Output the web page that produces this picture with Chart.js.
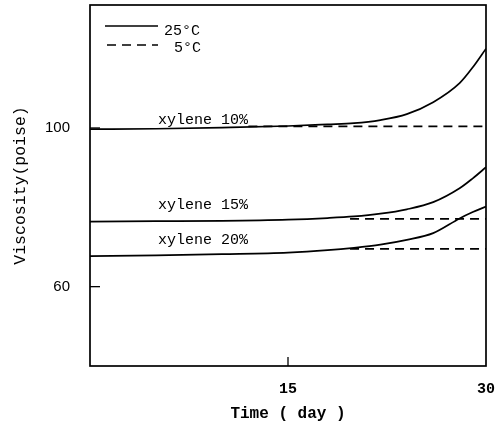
<!DOCTYPE html>
<html><head><meta charset="utf-8">
<script src="https://cdn.jsdelivr.net/npm/chart.js@4.4.1/dist/chart.umd.min.js"></script>
<style>html,body{margin:0;padding:0;background:#fff}#wrap{width:500px;height:428px}</style>
</head><body><div id="wrap"><canvas id="c" width="500" height="428"></canvas></div>
<script>
const daysSolid = [0, 5, 10, 15, 18, 20, 22, 24, 26, 28, 29, 30];
const x10_25 = [99.7, 99.8, 100.1, 100.5, 100.9, 101.2, 102.0, 103.5, 106.5, 111.3, 115.3, 120.0];
const x15_25 = [76.4, 76.5, 76.6, 76.9, 77.3, 77.7, 78.4, 79.5, 81.3, 84.8, 87.3, 90.1];
const x20_25 = [67.7, 67.9, 68.2, 68.6, 69.2, 69.8, 70.6, 71.8, 73.5, 77.2, 78.8, 80.2];
const days10_5 = [12, 30];
const x10_5 = [100.4, 100.4];
const days15_5 = [19.7, 30];
const x15_5 = [77.1, 77.1];
const days20_5 = [19.7, 30];
const x20_5 = [69.5, 69.5];
const yTicks = [60, 100];
const xTicks = [15, 30];
const seriesLabels = ["xylene 10%", "xylene 15%", "xylene 20%"];
const legendLabels = ["25°C", "5°C"];

const pts = (xs, ys) => xs.map((x, i) => ({x: x, y: ys[i]}));
const solid = {borderColor: '#000', borderWidth: 1.7, pointRadius: 0, fill: false, cubicInterpolationMode: 'monotone'};
const dashed = {borderColor: '#000', borderWidth: 1.7, pointRadius: 0, fill: false, borderDash: [9, 6]};

const extras = {
  id: 'extras',
  afterDraw(chart) {
    const ctx = chart.ctx, a = chart.chartArea, xs = chart.scales.x, ys = chart.scales.y;
    ctx.save();
    ctx.strokeStyle = '#000'; ctx.lineWidth = 1.7;
    ctx.strokeRect(a.left, a.top, a.right - a.left, a.bottom - a.top);
    ctx.lineWidth = 1.3;
    yTicks.forEach(v => { const y = ys.getPixelForValue(v); ctx.beginPath(); ctx.moveTo(a.left, y); ctx.lineTo(a.left + 10, y); ctx.stroke(); });
    [15].forEach(v => { const x = xs.getPixelForValue(v); ctx.beginPath(); ctx.moveTo(x, a.bottom); ctx.lineTo(x, a.bottom - 9); ctx.stroke(); });
    ctx.lineWidth = 1.4;
    ctx.beginPath(); ctx.moveTo(105, 26); ctx.lineTo(158, 26); ctx.stroke();
    ctx.setLineDash([9, 6]);
    ctx.beginPath(); ctx.moveTo(107, 45); ctx.lineTo(158, 45); ctx.stroke();
    ctx.setLineDash([]);
    ctx.fillStyle = '#000';
    ctx.font = '15px "Liberation Mono"';
    ctx.textBaseline = 'middle'; ctx.textAlign = 'left';
    ctx.fillText(legendLabels[0], 164, 31);
    ctx.fillText(legendLabels[1], 174, 48);
    ctx.textAlign = 'center';
    ctx.fillText(seriesLabels[0], 203, 120);
    ctx.fillText(seriesLabels[1], 203, 205);
    ctx.fillText(seriesLabels[2], 203, 240);
    ctx.restore();
  }
};

new Chart(document.getElementById('c'), {
  type: 'line',
  data: {
    datasets: [
      Object.assign({data: pts(daysSolid, x10_25)}, solid),
      Object.assign({data: pts(daysSolid, x15_25)}, solid),
      Object.assign({data: pts(daysSolid, x20_25)}, solid),
      Object.assign({data: pts(days10_5, x10_5)}, dashed),
      Object.assign({data: pts(days15_5, x15_5)}, dashed),
      Object.assign({data: pts(days20_5, x20_5)}, dashed)
    ]
  },
  options: {
    responsive: false, animation: false,
    layout: {padding: {left: 0, right: 14, top: 5, bottom: 0}},
    plugins: {legend: {display: false}, tooltip: {enabled: false}},
    scales: {
      x: {
        type: 'linear', min: 0, max: 30,
        afterBuildTicks: s => { s.ticks = xTicks.map(v => ({value: v})); },
        afterFit: s => { s.height = 62; s.paddingLeft = 0; s.paddingRight = 0; },
        grid: {display: false, drawTicks: false},
        border: {display: false},
        ticks: {color: '#000', padding: 14, font: {family: '"Liberation Mono"', size: 15, weight: 'bold'}},
        title: {display: true, text: 'Time ( day )', color: '#000', padding: {top: 4}, font: {family: '"Liberation Mono"', size: 16, weight: 'bold'}}
      },
      y: {
        min: 40, max: 131,
        afterBuildTicks: s => { s.ticks = yTicks.map(v => ({value: v})); },
        afterFit: s => { s.width = 90; s.paddingTop = 0; s.paddingBottom = 0; },
        grid: {display: false, drawTicks: false},
        border: {display: false},
        ticks: {color: '#000', padding: 20, font: {family: '"Liberation Sans"', size: 15}},
        title: {display: true, text: 'Viscosity(poise)', color: '#000', padding: {top: 11}, font: {family: '"Liberation Mono"', size: 16.5}}
      }
    }
  },
  plugins: [extras]
});
</script></body></html>
